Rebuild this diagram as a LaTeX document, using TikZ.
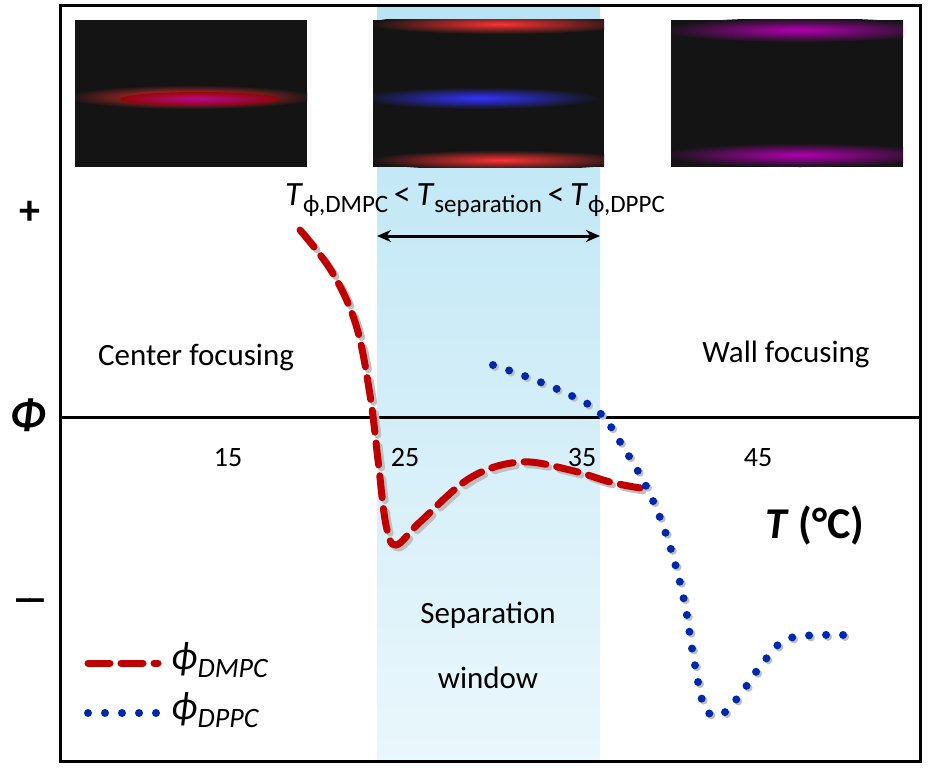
\documentclass[tikz,border=0pt]{standalone}
\usepackage{fontspec}
\setmainfont{Carlito}
\usetikzlibrary{arrows.meta,shadings}
\definecolor{dred}{RGB}{192,0,0}
\definecolor{dblue}{RGB}{0,40,170}
\definecolor{win}{RGB}{185,228,244}
\tikzset{lbl/.style={font=\fontsize{34}{40}\selectfont},
 tick/.style={font=\fontsize{28}{32}\selectfont},
 mid/.style={font=\fontsize{31}{36}\selectfont},
 redc/.style={dred,line width=7pt,dash pattern=on 22pt off 11pt,line cap=round,smooth,tension=0.6},
 bluec/.style={dblue,line width=8pt,dash pattern=on 0pt off 17pt,line cap=round,smooth,tension=0.6}}
\begin{document}
\begin{tikzpicture}[x=1pt,y=-1pt]
\useasboundingbox (0,0) rectangle (928,768);
\shade[top color=win,bottom color=win!30] (377,6) rectangle (600,761);
\draw[line width=3pt] (60,6) rectangle (920,761);
\draw[line width=3pt] (60,417) -- (920,417);
% images
\fill[black!92] (75,20) rectangle (307,167);
\fill[black!92] (373,20) rectangle (604,167);
\fill[black!92] (671,20) rectangle (903,167);
\begin{scope}
\clip (75,20) rectangle (307,167);
\shade[inner color=red!80,outer color=black!92] (191,97) ellipse (125 and 12);
\shade[inner color=violet!70!magenta,outer color=red!60!black,opacity=0.8] (200,99) ellipse (80 and 7);
\end{scope}
\begin{scope}
\clip (373,20) rectangle (604,167);
\shade[inner color=red!80,outer color=black!92] (500,24) ellipse (130 and 10);
\shade[inner color=red!80,outer color=black!92] (500,160) ellipse (130 and 10);
\shade[inner color=blue!80,outer color=black!92] (480,98) ellipse (120 and 11);
\end{scope}
\begin{scope}
\clip (671,20) rectangle (903,167);
\shade[inner color=violet!60!magenta,outer color=black!92] (800,30) ellipse (140 and 12);
\shade[inner color=violet!60!magenta,outer color=black!92] (800,155) ellipse (140 and 12);
\end{scope}
% texts
\node[font=\fontsize{42}{46}\selectfont\bfseries] (plus) at (30,213) {+};
\node[font=\fontsize{44}{48}\selectfont\bfseries\itshape] (phi) at (28,415) {Φ};
\node[font=\fontsize{42}{46}\selectfont\bfseries] (minus) at (30,606) {\textendash\kern-8pt\textendash};
\node[tick] (t15) at (228,458) {15};
\node[tick] (t25) at (405,458) {25};
\node[tick] (t35) at (582,458) {35};
\node[tick] (t45) at (758,458) {45};
\node[font=\fontsize{44}{48}\selectfont\bfseries] (tc) at (815,525) {\textit{T} (°C)};
\node[mid] (cf) at (196,357) {Center focusing};
\node[mid] (wf) at (786,354) {Wall focusing};
\node[mid] (sw1) at (488,615) {Separation};
\node[mid] (sw2) at (488,678) {window};
\node[lbl] (tl) at (475,200) {\textit{T}\raisebox{-7pt}{\fontsize{25}{28}\selectfont ϕ,DMPC}\,<\,\textit{T}\raisebox{-7pt}{\fontsize{25}{28}\selectfont separation}\,<\,\textit{T}\raisebox{-7pt}{\fontsize{25}{28}\selectfont ϕ,DPPC}};
\coordinate (a1) at (377,236);
\coordinate (a2) at (600,236);
\draw[{Stealth[length=14pt,width=12pt]}-{Stealth[length=14pt,width=12pt]},line width=3pt] (a1) -- (a2);
% curves shadow
\draw[redc,black!25,xshift=3pt,yshift=-3pt] plot coordinates {(300,230) (332,272) (356,325) (370,395) (378,460) (386,525) (396,545) (420,522) (470,478) (520,462) (570,470) (610,482) (640,488)};
\draw[redc] plot coordinates {(300,230) (332,272) (356,325) (370,395) (378,460) (386,525) (396,545) (420,522) (470,478) (520,462) (570,470) (610,482) (640,488)};
\draw[bluec,black!25,xshift=2pt,yshift=-2pt] plot coordinates {(493,365) (530,378) (570,395) (600,413) (622,445) (648,490) (668,540) (684,600) (694,660) (705,708) (722,714) (742,692) (765,660) (790,638) (845,635)};
\draw[bluec] plot coordinates {(493,365) (530,378) (570,395) (600,413) (622,445) (648,490) (668,540) (684,600) (694,660) (705,708) (722,714) (742,692) (765,660) (790,638) (845,635)};
% legend
\coordinate (l1a) at (88,663); \coordinate (l1b) at (158,663);
\coordinate (l2a) at (88,713); \coordinate (l2b) at (158,713);
\draw[redc] (l1a) -- (l1b);
\draw[bluec] (l2a) -- (l2b);
\node[font=\fontsize{40}{44}\selectfont\itshape,anchor=west] (ld) at (168,660) {ϕ\raisebox{-8pt}{\fontsize{28}{30}\selectfont DMPC}};
\node[font=\fontsize{40}{44}\selectfont\itshape,anchor=west] (lp) at (168,710) {ϕ\raisebox{-8pt}{\fontsize{28}{30}\selectfont DPPC}};
\end{tikzpicture}
\end{document}
